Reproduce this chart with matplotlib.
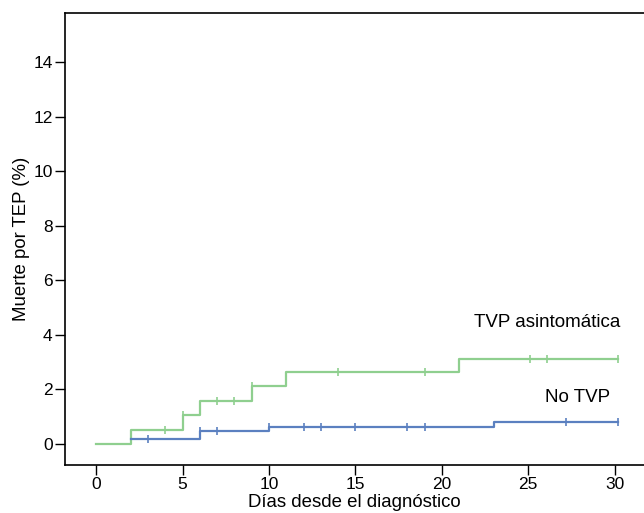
import matplotlib.pyplot as plt
import numpy as np

plt.rcParams['font.family'] = ['Liberation Sans', 'DejaVu Sans']

# Curvas de incidencia acumulada (escalones)
tvp_dias = [0, 2, 5, 6, 9, 11, 21, 30.2]
tvp_valores = [0, 0.52, 1.05, 1.57, 2.12, 2.64, 3.13, 3.13]
tvp_censura_x = [4, 5, 7, 8, 9, 14, 19, 25.1, 26.1, 30.2]

no_tvp_dias = [2, 6, 10, 23, 30.2]
no_tvp_valores = [0.17, 0.46, 0.63, 0.8, 0.8]
no_tvp_censura_x = [3, 6, 7, 10, 12, 13, 15, 18, 19, 27.2, 30.2]

color_tvp = '#8fcf8f'
color_no = '#5b80c0'


def valor_en(dias, valores, x):
    idx = np.searchsorted(dias, x, side='right') - 1
    return valores[idx]


fig = plt.figure(figsize=(6.44, 5.13), dpi=100)
ax = fig.add_axes([0.101, 0.0936, 0.899, 0.881])

ax.step(tvp_dias, tvp_valores, where='post', color=color_tvp, lw=1.6)
ax.step(no_tvp_dias, no_tvp_valores, where='post', color=color_no, lw=1.6)

ax.plot(tvp_censura_x, [valor_en(tvp_dias, tvp_valores, x) for x in tvp_censura_x],
        ls='none', marker='|', ms=6, mew=1.2, color=color_tvp)
ax.plot(no_tvp_censura_x, [valor_en(no_tvp_dias, no_tvp_valores, x) for x in no_tvp_censura_x],
        ls='none', marker='|', ms=6, mew=1.2, color=color_no)

ax.text(26.1, 4.47, 'TVP asintomática', ha='center', va='center', fontsize=13.5)
ax.text(27.85, 1.7, 'No TVP', ha='center', va='center', fontsize=13.5)

ax.set_xlim(-1.8, 31.7)
ax.set_ylim(-0.77, 15.8)
ax.set_xticks(np.arange(0, 31, 5))
ax.set_yticks(np.arange(0, 15, 2))
ax.tick_params(direction='out', length=7, width=1, labelsize=12.5, colors='black', pad=2)
ax.spines['right'].set_visible(False)
for s in ['left', 'bottom', 'top']:
    ax.spines[s].set_linewidth(1.2)

ax.set_xlabel('Días desde el diagnóstico', fontsize=13.4, labelpad=1)
ax.set_ylabel('Muerte por TEP (%)', fontsize=13.4, labelpad=2)

fig.savefig('out.png', dpi=100)
